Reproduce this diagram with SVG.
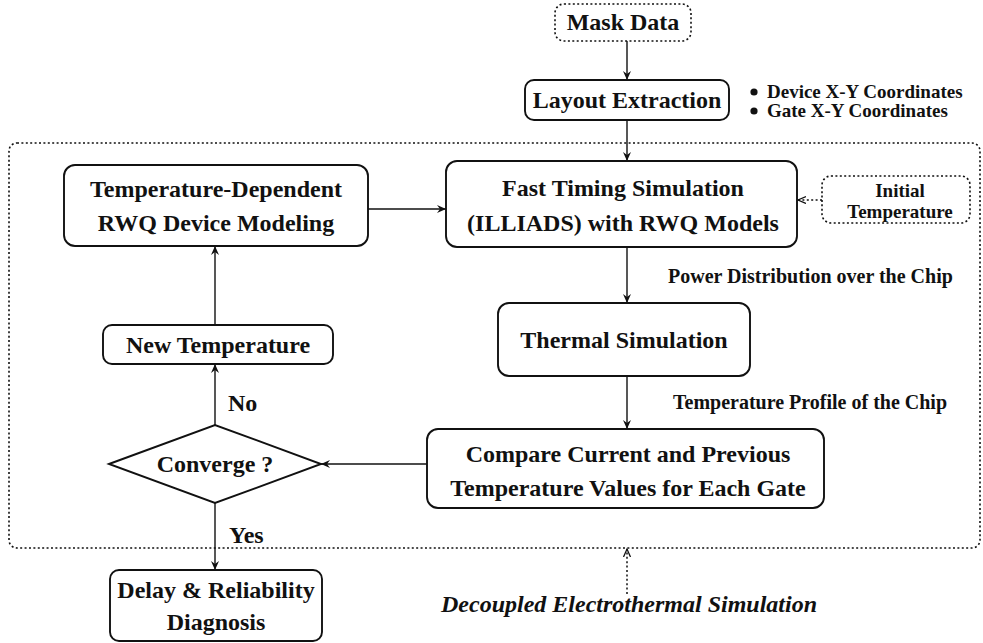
<svg xmlns="http://www.w3.org/2000/svg" width="983" height="643" viewBox="0 0 983 643">
<style>
.box{fill:#fff;stroke:#111;stroke-width:1.9}
.dbox{fill:#fff;stroke:#111;stroke-width:1.6;stroke-dasharray:2 2.4}
.t{font-family:"Liberation Serif","Times New Roman",serif;font-weight:bold;font-size:24px;fill:#111;text-anchor:middle}
.s{font-family:"Liberation Serif","Times New Roman",serif;font-weight:bold;font-size:19px;fill:#111}
.m{font-family:"Liberation Serif","Times New Roman",serif;font-weight:bold;font-size:20px;fill:#111}
.it{font-family:"Liberation Serif","Times New Roman",serif;font-weight:bold;font-style:italic;font-size:24px;fill:#111}
.ln{fill:none;stroke:#111;stroke-width:1.4}
.dl{fill:none;stroke:#111;stroke-width:1.5;stroke-dasharray:2 2.4}
</style>
<defs>
<marker id="ah" markerUnits="userSpaceOnUse" markerWidth="12" markerHeight="10" refX="9" refY="4" orient="auto">
<path d="M0,0 L9,4 L0,8 L3,4 z" fill="#111"/>
</marker>
<marker id="oh" markerUnits="userSpaceOnUse" markerWidth="12" markerHeight="10" refX="8" refY="4" orient="auto">
<path d="M0,0.5 L8,4 L0,7.5" fill="none" stroke="#111" stroke-width="1.3"/>
</marker>
</defs>

<g id="outer">
<rect class="dbox" x="9" y="143" width="971" height="405" rx="8" style="fill:none"/>
</g>

<g id="connectors">
<line class="ln" x1="627" y1="41" x2="627" y2="80" marker-end="url(#ah)"/>
<line class="ln" x1="627" y1="120" x2="627" y2="161" marker-end="url(#ah)"/>
<line class="ln" x1="368" y1="209" x2="446" y2="209" marker-end="url(#ah)"/>
<line class="dl" x1="822" y1="200" x2="798" y2="200" marker-end="url(#oh)"/>
<line class="ln" x1="627" y1="247" x2="627" y2="303" marker-end="url(#ah)"/>
<line class="ln" x1="627" y1="376" x2="627" y2="429" marker-end="url(#ah)"/>
<line class="ln" x1="427" y1="464" x2="321" y2="464" marker-end="url(#ah)"/>
<line class="ln" x1="215" y1="425" x2="215" y2="364" marker-end="url(#ah)"/>
<line class="ln" x1="215" y1="325" x2="215" y2="246" marker-end="url(#ah)"/>
<line class="ln" x1="215" y1="503" x2="215" y2="570" marker-end="url(#ah)"/>
<line class="dl" x1="627" y1="594" x2="627" y2="549" marker-end="url(#oh)"/>
</g>

<g id="mask">
<rect class="dbox" x="555" y="4" width="136" height="37" rx="9"/>
<text class="t" x="623" y="30">Mask Data</text>
</g>

<g id="layout">
<rect class="box" x="525" y="80" width="204" height="40" rx="9"/>
<text class="t" x="627" y="108">Layout Extraction</text>
</g>

<g id="coords">
<circle cx="754" cy="92" r="3.6" fill="#111"/>
<circle cx="754" cy="111" r="3.6" fill="#111"/>
<text class="s" x="767" y="98">Device X-Y Coordinates</text>
<text class="s" x="767" y="117">Gate X-Y Coordinates</text>
</g>

<g id="tempdep">
<rect class="box" x="64" y="165" width="304" height="81" rx="11"/>
<text class="t" x="216" y="197">Temperature-Dependent</text>
<text class="t" x="216" y="231">RWQ Device Modeling</text>
</g>

<g id="fast">
<rect class="box" x="446" y="161" width="351" height="86" rx="11"/>
<text class="t" x="623" y="196">Fast Timing Simulation</text>
<text class="t" x="623" y="231">(ILLIADS) with RWQ Models</text>
</g>

<g id="initial">
<rect class="dbox" x="822" y="176" width="148" height="47" rx="9"/>
<text class="s" x="900" y="197" text-anchor="middle">Initial</text>
<text class="s" x="900" y="218" text-anchor="middle">Temperature</text>
</g>

<g id="powerlabel">
<text class="m" x="668" y="283">Power Distribution over the Chip</text>
</g>

<g id="thermal">
<rect class="box" x="498" y="303" width="252" height="73" rx="11"/>
<text class="t" x="624" y="348">Thermal Simulation</text>
</g>

<g id="profilelabel">
<text class="m" x="673" y="409">Temperature Profile of the Chip</text>
</g>

<g id="compare">
<rect class="box" x="427" y="429" width="397" height="79" rx="11"/>
<text class="t" x="628" y="462">Compare Current and Previous</text>
<text class="t" x="628" y="496">Temperature Values for Each Gate</text>
</g>

<g id="converge">
<polygon class="box" points="109,464 215,425 321,464 215,503"/>
<text class="t" x="215" y="472">Converge ?</text>
</g>

<g id="newtemp">
<rect class="box" x="103" y="325" width="230" height="39" rx="9"/>
<text class="t" x="218" y="353">New Temperature</text>
</g>

<g id="labels">
<text class="t" x="228" y="411" style="text-anchor:start">No</text>
<text class="t" x="229" y="543" style="text-anchor:start">Yes</text>
</g>

<g id="delay">
<rect class="box" x="110" y="570" width="212" height="71" rx="9"/>
<text class="t" x="216" y="598">Delay &amp; Reliability</text>
<text class="t" x="216" y="630">Diagnosis</text>
</g>

<g id="decoupled">
<text class="it" x="441" y="612">Decoupled Electrothermal Simulation</text>
</g>
</svg>
